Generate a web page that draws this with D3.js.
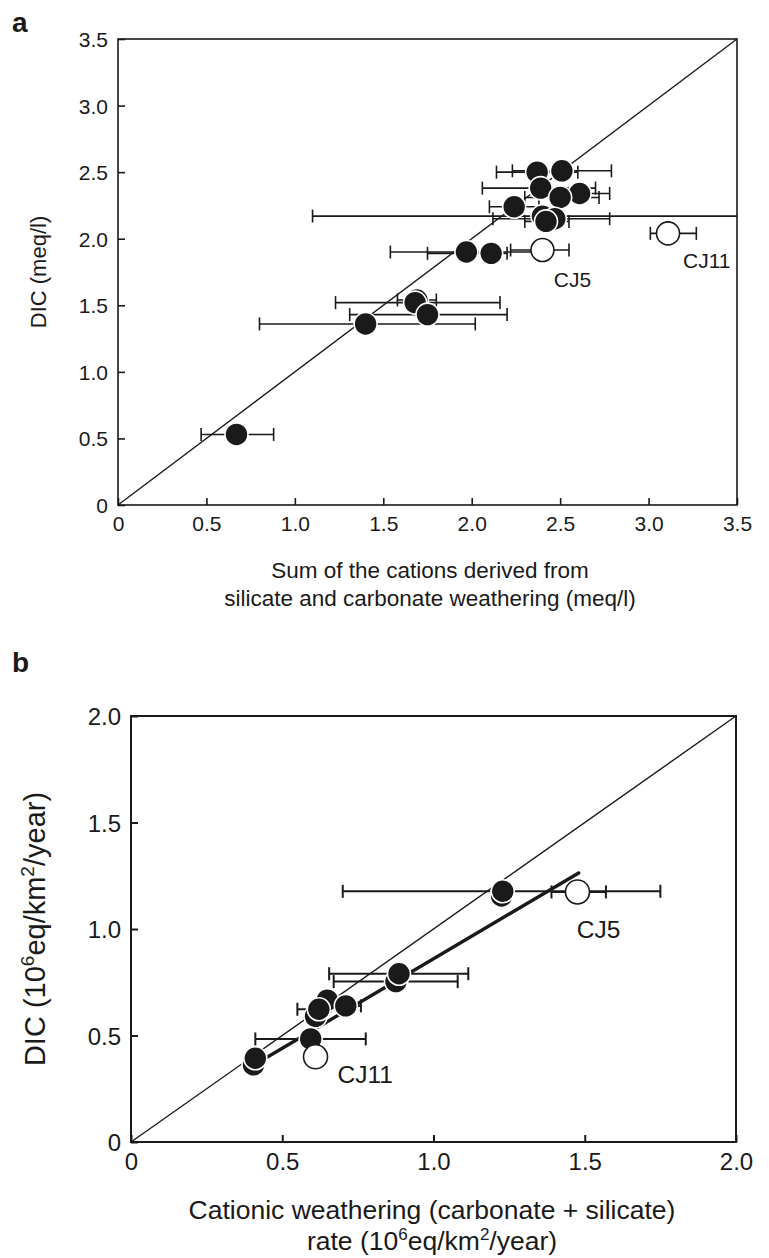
<!DOCTYPE html>
<html><head><meta charset="utf-8">
<script src="https://cdn.jsdelivr.net/npm/d3@7"></script>
<style>
body{margin:0;background:#fff;}
text{font-family:"Liberation Sans",Arial,sans-serif;fill:#1a1a1a;}
</style>
</head><body>
<svg id="c" width="769" height="1258"></svg>
<script>
// ---------- DATA ----------
const ticksA = [0, 0.5, 1.0, 1.5, 2.0, 2.5, 3.0, 3.5];
const ticksB = [0, 0.5, 1.0, 1.5, 2.0];

// Panel a: filled points (x, y, x-error low, x-error high)
const aX  = [2.37, 2.51, 2.39, 2.61, 2.50, 2.24, 2.40, 2.47, 2.42, 1.97, 2.11, 1.69, 1.68, 1.75, 1.40, 0.67];
const aY  = [2.50, 2.51, 2.38, 2.34, 2.31, 2.24, 2.17, 2.15, 2.13, 1.90, 1.89, 1.54, 1.52, 1.43, 1.36, 0.53];
const aLo = [2.14, 2.23, 2.06, 2.45, 2.30, 2.10, 1.10, 2.12, 2.30, 1.54, 1.75, 1.58, 1.23, 1.31, 0.80, 0.47];
const aHi = [2.60, 2.79, 2.70, 2.78, 2.72, 2.38, 3.70, 2.78, 2.55, 2.40, 2.20, 1.80, 2.16, 2.20, 2.02, 0.88];
// Panel a: open points (outliers)
const aOpenX  = [2.40, 3.11];
const aOpenY  = [1.915, 2.04];
const aOpenLo = [2.22, 3.01];
const aOpenHi = [2.55, 3.27];
const aOpenLab = ["CJ5", "CJ11"];

// Panel b: filled points
const bX  = [0.405, 0.411, 0.61, 0.649, 0.621, 0.71, 0.594, 0.876, 0.886, 1.225, 1.229];
const bY  = [0.362, 0.393, 0.59, 0.666, 0.623, 0.639, 0.484, 0.753, 0.79, 1.155, 1.177];
const bLo = [0.405, 0.411, 0.61, 0.649, 0.55, 0.66, 0.411, 0.67, 0.655, 1.225, 0.70];
const bHi = [0.405, 0.411, 0.61, 0.649, 0.69, 0.76, 0.776, 1.08, 1.115, 1.225, 1.75];
// Panel b: open points
const bOpenX  = [1.476, 0.61];
const bOpenY  = [1.174, 0.40];
const bOpenLo = [1.39, 0.61];
const bOpenHi = [1.57, 0.61];
const bOpenLab = ["CJ5", "CJ11"];
// Panel b: regression line
const bFitSlope = 0.84;
const bFitIntercept = 0.02;
const bFitRange = [0.39, 1.48];

// ---------- DRAW ----------
const svg = d3.select("#c");
const INK = "#1a1a1a";
const fmt = d => d === 0 ? "0" : d.toFixed(1);

function panel(opt) {
  const {x, y, ticks, id, fs, lw, pad} = opt;
  const g = svg.append("g");
  const [x0, x1] = x.range(), [y0, y1] = y.range();
  g.append("clipPath").attr("id", id).append("rect")
    .attr("x", x0).attr("y", y1).attr("width", x1 - x0).attr("height", y0 - y1);

  // axes (ticks inward)
  const gx = g.append("g").attr("transform", `translate(0,${y0})`)
    .call(d3.axisBottom(x).tickValues(ticks).tickFormat(fmt).tickSize(-7).tickPadding(pad));
  const gy = g.append("g").attr("transform", `translate(${x0},0)`)
    .call(d3.axisLeft(y).tickValues(ticks).tickFormat(fmt).tickSize(-7).tickPadding(10));
  [gx, gy].forEach(a => {
    a.select(".domain").remove();
    a.selectAll("line").attr("stroke", INK).attr("stroke-width", lw);
    a.selectAll("text").attr("font-size", fs).attr("fill", INK)
      .style("font-family", '"Liberation Sans",Arial,sans-serif');
  });
  gy.selectAll("text").attr("dy", "0.36em");

  // frame
  g.append("rect").attr("x", x0).attr("y", y1).attr("width", x1 - x0).attr("height", y0 - y1)
    .attr("fill", "none").attr("stroke", INK).attr("stroke-width", lw);

  // 1:1 line
  const dmax = x.domain()[1];
  g.append("line").attr("x1", x(0)).attr("y1", y(0)).attr("x2", x(dmax)).attr("y2", y(dmax))
    .attr("stroke", INK).attr("stroke-width", 1.4);
  return g;
}

function errorBars(g, id, x, y, xs, ys, lo, hi, lw) {
  const eg = g.append("g").attr("clip-path", `url(#${id})`).attr("stroke", INK).attr("stroke-width", lw);
  xs.forEach((v, i) => {
    if (lo[i] === hi[i]) return;
    const yy = y(ys[i]);
    eg.append("line").attr("x1", x(lo[i])).attr("x2", x(hi[i])).attr("y1", yy).attr("y2", yy);
    [lo[i], hi[i]].forEach(e => {
      eg.append("line").attr("x1", x(e)).attr("x2", x(e)).attr("y1", yy - 6.5).attr("y2", yy + 6.5);
    });
  });
}

function points(g, x, y, xs, ys, open, r) {
  g.append("g").selectAll("circle").data(xs).join("circle")
    .attr("cx", d => x(d)).attr("cy", (d, i) => y(ys[i])).attr("r", r)
    .attr("fill", open ? "#fff" : INK)
    .attr("stroke", open ? INK : "#fff")
    .attr("stroke-width", 1.6);
}

// ----- Panel a -----
const xa = d3.scaleLinear().domain([0, 3.5]).range([118, 737]);
const ya = d3.scaleLinear().domain([0, 3.5]).range([505, 39]);
const ga = panel({x: xa, y: ya, ticks: ticksA, id: "clipA", fs: 21, lw: 1.6, pad: 11});
errorBars(ga, "clipA", xa, ya, aX, aY, aLo, aHi, 1.6);
errorBars(ga, "clipA", xa, ya, aOpenX, aOpenY, aOpenLo, aOpenHi, 1.6);
points(ga, xa, ya, aX, aY, false, 11.5);
points(ga, xa, ya, aOpenX, aOpenY, true, 11.5);
const aLabOff = [[30, 37, "middle"], [15, 35, "start"]];
aOpenLab.forEach((t, i) => {
  ga.append("text").attr("x", xa(aOpenX[i]) + aLabOff[i][0]).attr("y", ya(aOpenY[i]) + aLabOff[i][1])
    .attr("text-anchor", aLabOff[i][2]).attr("font-size", 21).text(t);
});
svg.append("text").attr("x", 12).attr("y", 32).attr("font-size", 28).attr("font-weight", "bold").text("a");
svg.append("text").attr("transform", "translate(46,272) rotate(-90)").attr("text-anchor", "middle")
  .attr("font-size", 22).text("DIC (meq/l)");
svg.append("text").attr("x", 430).attr("y", 578).attr("text-anchor", "middle").attr("font-size", 22.5)
  .text("Sum of the cations derived from");
svg.append("text").attr("x", 430).attr("y", 606).attr("text-anchor", "middle").attr("font-size", 22.5)
  .text("silicate and carbonate weathering (meq/l)");

// ----- Panel b -----
const xb = d3.scaleLinear().domain([0, 2]).range([131, 736]);
const yb = d3.scaleLinear().domain([0, 2]).range([1142, 716]);
const gb = panel({x: xb, y: yb, ticks: ticksB, id: "clipB", fs: 24, lw: 2, pad: 11});
errorBars(gb, "clipB", xb, yb, bX, bY, bLo, bHi, 2);
errorBars(gb, "clipB", xb, yb, bOpenX, bOpenY, bOpenLo, bOpenHi, 2);
gb.append("line")
  .attr("x1", xb(bFitRange[0])).attr("y1", yb(bFitSlope * bFitRange[0] + bFitIntercept))
  .attr("x2", xb(bFitRange[1])).attr("y2", yb(bFitSlope * bFitRange[1] + bFitIntercept))
  .attr("stroke", INK).attr("stroke-width", 3.4).attr("stroke-linecap", "round");
points(gb, xb, yb, bX, bY, false, 11.5);
points(gb, xb, yb, bOpenX, bOpenY, true, 12);
const bLabOff = [[21, 46, "middle"], [22, 26, "start"]];
bOpenLab.forEach((t, i) => {
  gb.append("text").attr("x", xb(bOpenX[i]) + bLabOff[i][0]).attr("y", yb(bOpenY[i]) + bLabOff[i][1])
    .attr("text-anchor", bLabOff[i][2]).attr("font-size", 24.5).text(t);
});
svg.append("text").attr("x", 12).attr("y", 672).attr("font-size", 28).attr("font-weight", "bold").text("b");
const yt = svg.append("text").attr("transform", "translate(45,929) rotate(-90)").attr("text-anchor", "middle")
  .attr("font-size", 29);
yt.append("tspan").text("DIC (10");
yt.append("tspan").attr("dy", -11).attr("font-size", 19).text("6");
yt.append("tspan").attr("dy", 11).text("eq/km");
yt.append("tspan").attr("dy", -11).attr("font-size", 19).text("2");
yt.append("tspan").attr("dy", 11).text("/year)");
svg.append("text").attr("x", 432).attr("y", 1219).attr("text-anchor", "middle").attr("font-size", 26.5)
  .text("Cationic weathering (carbonate + silicate)");
const xt = svg.append("text").attr("x", 432).attr("y", 1250).attr("text-anchor", "middle").attr("font-size", 26.5);
xt.append("tspan").text("rate (10");
xt.append("tspan").attr("dy", -10).attr("font-size", 17).text("6");
xt.append("tspan").attr("dy", 10).text("eq/km");
xt.append("tspan").attr("dy", -10).attr("font-size", 17).text("2");
xt.append("tspan").attr("dy", 10).text("/year)");
</script>
</body></html>
